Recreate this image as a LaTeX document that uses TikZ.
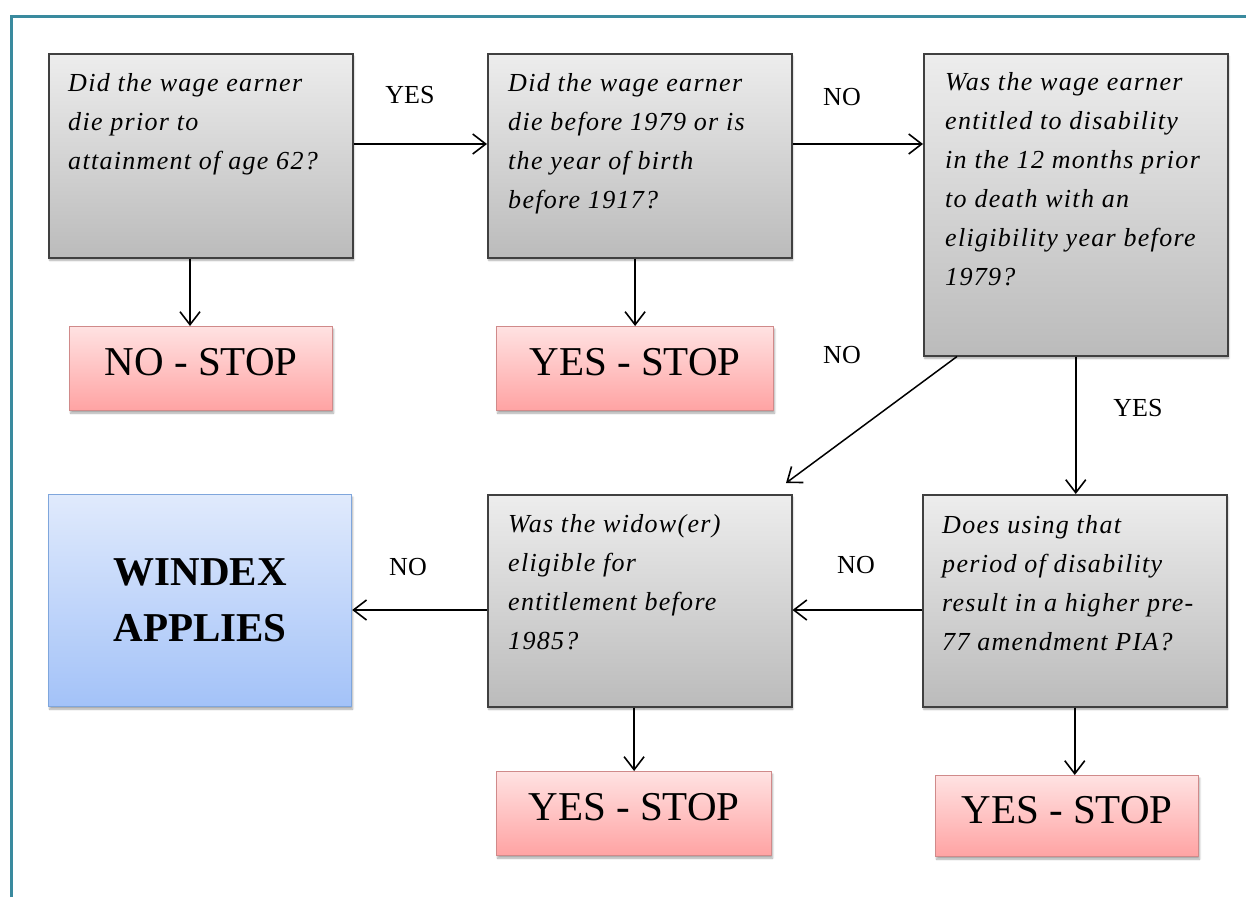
\documentclass[tikz,border=0pt]{standalone}
\usepackage{fontspec}
\setmainfont{Liberation Serif}
\newfontfamily\qfont{Liberation Serif}[LetterSpace=5]
\usetikzlibrary{arrows.meta,shadows.blur}
\definecolor{frame}{HTML}{3A8A9E}
\definecolor{gtop}{HTML}{EDEDED}
\definecolor{gbot}{HTML}{BBBBBB}
\definecolor{gline}{HTML}{404040}
\definecolor{ptop}{HTML}{FFE2E2}
\definecolor{pbot}{HTML}{FFA3A3}
\definecolor{pline}{HTML}{D08A8A}
\definecolor{btop}{HTML}{E0EAFC}
\definecolor{bbot}{HTML}{A3C2F8}
\definecolor{bline}{HTML}{7FA6DC}
\tikzset{
  x=1pt, y=-1pt,
  boxshadow/.style={blur shadow={shadow xshift=1pt, shadow yshift=-2.5pt, shadow blur steps=6, shadow opacity=35}},
  qbox/.style={rectangle, draw=gline, line width=1.5pt, top color=gtop, bottom color=gbot, anchor=north west, inner sep=0pt, boxshadow},
  qtext/.style={anchor=base west, inner sep=0pt, font=\qfont\itshape\fontsize{26}{39}\selectfont},
  stopbox/.style={rectangle, draw=pline, line width=1.2pt, top color=ptop, bottom color=pbot, anchor=north west, inner sep=0pt, boxshadow, font=\fontsize{41}{48}\selectfont, text height=29pt, text depth=15pt},
  winbox/.style={rectangle, draw=bline, line width=1.2pt, top color=btop, bottom color=bbot, anchor=north west, inner sep=0pt, boxshadow, align=center, font=\bfseries\fontsize{41}{56}\selectfont},
  lbl/.style={inner sep=0pt, font=\fontsize{26}{30}\selectfont},
  arr/.style={line width=1.5pt, -{Straight Barb[length=13pt,width=20pt,line width=1.6pt]}}
}
\begin{document}
\begin{tikzpicture}
\useasboundingbox (0,0) rectangle (1246,897);
\draw[frame, line width=3pt] (11,897) -- (11,16.5) -- (1246,16.5);

% question boxes
\node[qbox, minimum width=304pt, minimum height=204pt] (q1) at (48,53) {};
\node[qbox, minimum width=304pt, minimum height=204pt] (q2) at (487,53) {};
\node[qbox, minimum width=304pt, minimum height=302pt] (q3) at (923,53) {};
\node[qbox, minimum width=304pt, minimum height=212pt] (q4) at (487,494) {};
\node[qbox, minimum width=304pt, minimum height=212pt] (q5) at (922,494) {};

\node[qtext] (q1t) at (68,91) {\begin{tabular}[t]{@{}l@{}}Did the wage earner\\ die prior to\\ attainment of age 62?\end{tabular}};
\node[qtext] (q2t) at (508,91) {\begin{tabular}[t]{@{}l@{}}Did the wage earner\\ die before 1979 or is\\ the year of birth\\ before 1917?\end{tabular}};
\node[qtext] (q3t) at (945,90) {\begin{tabular}[t]{@{}l@{}}Was the wage earner\\ entitled to disability\\ in the 12 months prior\\ to death with an\\ eligibility year before\\ 1979?\end{tabular}};
\node[qtext] (q4t) at (508,532) {\begin{tabular}[t]{@{}l@{}}Was the widow(er)\\ eligible for\\ entitlement before\\ 1985?\end{tabular}};
\node[qtext] (q5t) at (942,533) {\begin{tabular}[t]{@{}l@{}}Does using that\\ period of disability\\ result in a higher pre-\\ 77 amendment PIA?\end{tabular}};

% stop boxes
\node[stopbox, minimum width=263pt, minimum height=84pt] (s1) at (69,326) {NO - STOP};
\node[stopbox, minimum width=277pt, minimum height=84pt] (s2) at (496,326) {YES - STOP};
\node[stopbox, minimum width=275pt, minimum height=84pt] (s3) at (496,771) {YES - STOP};
\node[stopbox, minimum width=263pt, minimum height=81pt] (s4) at (935,775) {YES - STOP};

% windex
\node[winbox, minimum width=303pt, minimum height=212pt] (w) at (48,494) {WINDEX\\APPLIES};

% helper coordinates
\coordinate (r1) at (0,144);
\coordinate (r2) at (0,610);
\coordinate (c1) at (190,0);
\coordinate (dend) at (786,483);
\coordinate (dstart) at (957,355);

% connectors
\draw[arr] (q1.east |- r1) -- (q2.west |- r1);
\draw[arr] (q2.east |- r1) -- (q3.west |- r1);
\draw[arr] (c1 |- q1.south) -- (c1 |- s1.north);
\draw[arr] (s2.north |- q2.south) -- (s2.north);
\draw[arr] (q3.south -| dstart) -- (dend);
\draw[arr] (q3.south) -- (q3.south |- q5.north);
\draw[arr] (q5.west |- r2) -- (q4.east |- r2);
\draw[arr] (q4.west |- r2) -- (w.east |- r2);
\draw[arr] (s3.north |- q4.south) -- (s3.north);
\draw[arr] (q5.south) -- (q5.south |- s4.north);

% labels
\node[lbl] (l1) at (410,95) {YES};
\node[lbl] (l2) at (842,97) {NO};
\node[lbl] (l3) at (842,355) {NO};
\node[lbl] (l4) at (1138,408) {YES};
\node[lbl] (l5) at (856,565) {NO};
\node[lbl] (l6) at (408,567) {NO};
\end{tikzpicture}
\end{document}
